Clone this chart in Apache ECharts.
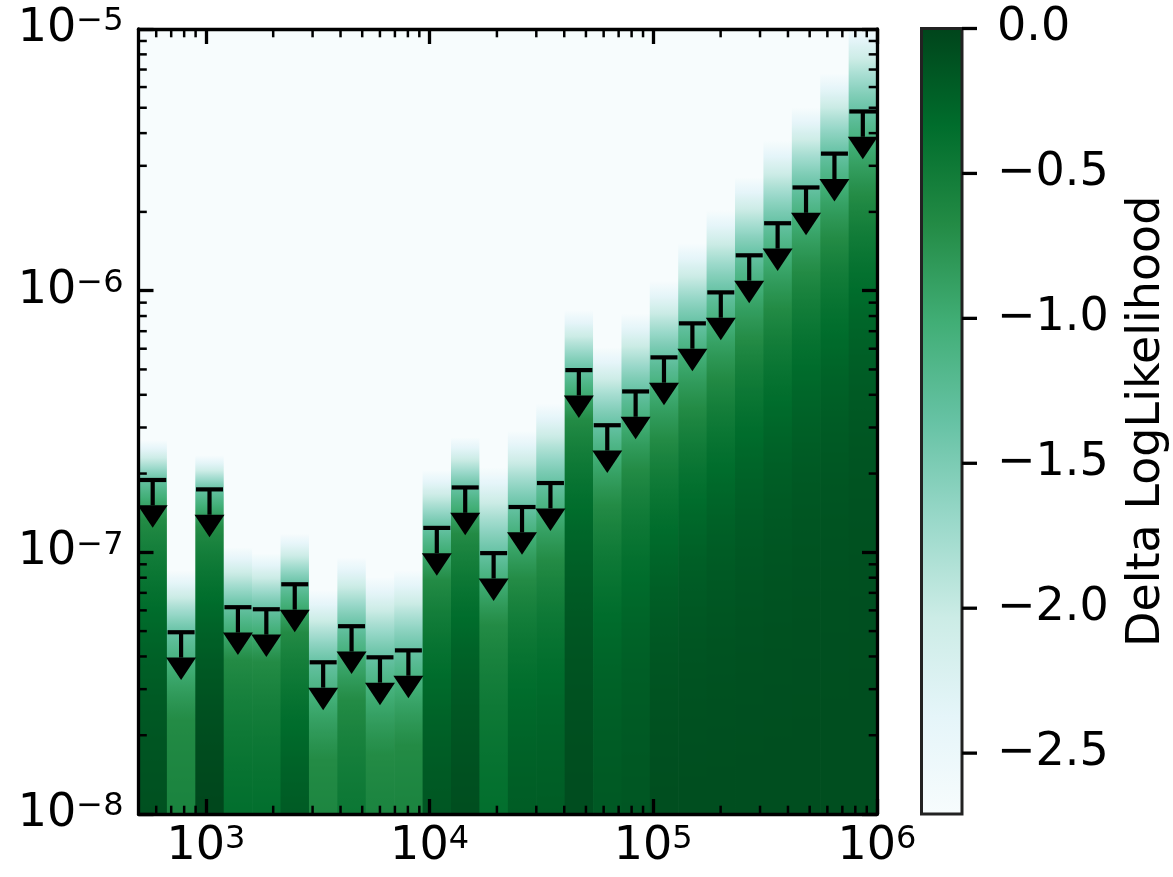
<!DOCTYPE html>
<html>
<head>
<meta charset="utf-8">
<title>Castro plot</title>
<script src="https://cdn.jsdelivr.net/npm/echarts@6/dist/echarts.min.js"></script>
<style>
  html, body { margin: 0; padding: 0; background: #fff; }
  #chart { width: 1173px; height: 877px; }
</style>
</head>
<body>
<div id="chart"></div>
<script>
// energy bin edges, 26 bins from 500 to 1e6
const binEdges = [500, 669.7, 897.1, 1202, 1610, 2157, 2890, 3871, 5186, 6948, 9308,
  12469, 16704, 22378, 29979, 40162, 53803, 72079, 96455, 129210, 173100,
  231900, 310660, 416180, 557540, 746900, 1e6]

// upper limit of each bin (the cap of the arrow), delta logL = -1.355
const upperLimits = [1.89e-7, 4.95e-8, 1.74e-7, 6.17e-8, 6.06e-8, 7.55e-8, 3.80e-8, 5.22e-8,
  3.97e-8, 4.22e-8, 1.24e-7, 1.77e-7, 9.93e-8, 1.49e-7, 1.84e-7, 4.97e-7, 3.06e-7,
  4.12e-7, 5.56e-7, 7.50e-7, 9.85e-7, 1.365e-6, 1.81e-6, 2.48e-6, 3.34e-6, 4.84e-6]

// flux where delta logL is about -0.68 (mid green)
const kneeFlux = [1.33e-7, 2.28e-8, 1.25e-7, 3.87e-8, 3.80e-8, 4.95e-8, 1.61e-8, 2.72e-8,
  1.68e-8, 1.83e-8, 7.82e-8, 1.18e-7, 5.27e-8, 7.82e-8, 9.28e-8, 3.20e-7, 1.51e-7,
  2.06e-7, 2.68e-7, 3.55e-7, 4.67e-7, 6.46e-7, 8.56e-7, 1.18e-6, 1.58e-6, 2.29e-6]

// flux where the likelihood has dropped to the bottom of the colour scale
const fadeFlux = [2.68e-7, 8.53e-8, 2.35e-7, 1.045e-7, 9.91e-8, 1.18e-7, 7.16e-8, 9.57e-8,
  8.03e-8, 8.53e-8, 2.06e-7, 2.75e-7, 2.11e-7, 2.92e-7, 3.71e-7, 8.41e-7, 6.07e-7,
  8.18e-7, 1.09e-6, 1.52e-6, 2.03e-6, 2.71e-6, 3.75e-6, 5.01e-6, 6.76e-6, 1.05e-5]

// delta loglikelihood at the bottom of the plot (flux 1e-8)
const bottomDll = [-0.10, -0.59, -0.02, -0.36, -0.36, -0.19, -0.62, -0.45, -0.60, -0.60,
  -0.15, -0.08, -0.36, -0.20, -0.20, -0.07, -0.17, -0.15, -0.08, -0.08,
  -0.08, -0.08, -0.08, -0.08, -0.08, -0.08]

const kneeLevel = -0.68
const ulLevel = -1.355           // delta logL at the 95% upper limit
const dllRange = [-2.71, 0]      // colour scale
const cbarTicks = [0, -0.5, -1.0, -1.5, -2.0, -2.5]
const xMajor = [1e3, 1e4, 1e5, 1e6]
const yMajor = [1e-8, 1e-7, 1e-6, 1e-5]
const xRange = [500, 1e6]
const yRange = [1e-8, 1e-5]

// matplotlib BuGn
const bugnColors = ['#f7fcfd', '#e5f5f9', '#ccece6', '#99d8c9', '#66c2a4', '#41ae76', '#238b45', '#006d2c', '#00441b']

const FONT = 'DejaVu Sans'
const FS = 46

const minorMult = [2, 3, 4, 5, 6, 7, 8, 9]
const xMinor = []
;[100, 1e3, 1e4, 1e5].forEach(d => minorMult.forEach(m => {
  const v = d * m
  if (v > xRange[0] && v < xRange[1]) xMinor.push([v, yRange[0]])
}))
const yMinor = []
;[1e-8, 1e-7, 1e-6].forEach(d => minorMult.forEach(m => yMinor.push([xRange[0], d * m])))

const bins = upperLimits.map((u, i) => [binEdges[i], binEdges[i + 1], u])

function hexToRgb(h) {
  return [1, 3, 5].map(k => parseInt(h.slice(k, k + 2), 16))
}
const cmapRgb = bugnColors.map(hexToRgb)

function bugn(v) {
  let t = (v - dllRange[0]) / (dllRange[1] - dllRange[0])
  t = Math.min(1, Math.max(0, t))
  const p = t * (cmapRgb.length - 1)
  const i = Math.min(Math.floor(p), cmapRgb.length - 2)
  const f = p - i
  const a = cmapRgb[i], b = cmapRgb[i + 1]
  const c = a.map((x, k) => Math.round(x + (b[k] - x) * f))
  return 'rgb(' + c.join(',') + ')'
}

// piecewise linear (in flux) through the points read for bin i
function profileAt(i, f) {
  const knots = [[yRange[0], bottomDll[i]], [kneeFlux[i], kneeLevel],
    [upperLimits[i], ulLevel], [fadeFlux[i], dllRange[0]]]
  if (f <= knots[0][0]) return knots[0][1]
  for (let k = 1; k < knots.length; k++) {
    if (f <= knots[k][0]) {
      const [f0, v0] = knots[k - 1]
      const [f1, v1] = knots[k]
      return v0 + (v1 - v0) * (f - f0) / (f1 - f0)
    }
  }
  return dllRange[0]
}

function renderColumn(params, api) {
  const i = params.dataIndex
  const lo = api.value(0), hi = api.value(1)
  const tl = api.coord([lo, yRange[1]])
  const br = api.coord([hi, yRange[0]])
  const h = br[1] - tl[1]
  const lmin = Math.log10(yRange[0]), lmax = Math.log10(yRange[1])
  const fluxes = [kneeFlux[i], upperLimits[i], fadeFlux[i]]
  for (let k = 0; k <= 240; k++) fluxes.push(Math.pow(10, lmin + (lmax - lmin) * k / 240))
  const stops = fluxes
    .filter(f => f >= yRange[0] && f <= yRange[1])
    .map(f => ({ offset: (api.coord([lo, f])[1] - tl[1]) / h, color: bugn(profileAt(i, f)) }))
    .sort((a, b) => a.offset - b.offset)
  return {
    type: 'rect',
    shape: { x: tl[0], y: tl[1], width: br[0] - tl[0] + 0.7, height: h },
    style: { fill: new echarts.graphic.LinearGradient(0, 0, 0, 1, stops) },
  }
}

function renderArrow(params, api) {
  const lo = api.value(0), hi = api.value(1), ul = api.value(2)
  const xc = Math.sqrt(lo * hi)
  const cap = api.coord([xc, ul])
  const end = api.coord([xc, ul * 0.8])
  const ls = { stroke: '#000', lineWidth: 4.2 }
  return {
    type: 'group',
    children: [
      { type: 'line', shape: { x1: cap[0] - 13.5, y1: cap[1], x2: cap[0] + 13.5, y2: cap[1] }, style: ls },
      { type: 'line', shape: { x1: cap[0], y1: cap[1], x2: end[0], y2: end[1] }, style: ls },
      { type: 'polygon', shape: { points: [[end[0] - 15, end[1]], [end[0] + 15, end[1]], [end[0], end[1] + 22.5]] }, style: { fill: '#000' } },
    ],
  }
}

function renderXMinor(params, api) {
  const v = api.value(0)
  const b = api.coord([v, yRange[0]]), t = api.coord([v, yRange[1]])
  const ls = { stroke: '#000', lineWidth: 2.5 }
  return { type: 'group', children: [
    { type: 'line', shape: { x1: b[0], y1: b[1], x2: b[0], y2: b[1] - 8.3 }, style: ls },
    { type: 'line', shape: { x1: t[0], y1: t[1], x2: t[0], y2: t[1] + 8.3 }, style: ls },
  ] }
}

function renderYMinor(params, api) {
  const v = api.value(1)
  const l = api.coord([xRange[0], v]), r = api.coord([xRange[1], v])
  const ls = { stroke: '#000', lineWidth: 2.5 }
  return { type: 'group', children: [
    { type: 'line', shape: { x1: l[0], y1: l[1], x2: l[0] + 8.3, y2: l[1] }, style: ls },
    { type: 'line', shape: { x1: r[0], y1: r[1], x2: r[0] - 8.3, y2: r[1] }, style: ls },
  ] }
}

function renderCbar(params, api) {
  const tl = api.coord([0, dllRange[1]])
  const br = api.coord([1, dllRange[0]])
  const n = bugnColors.length - 1
  const stops = bugnColors.map((c, k) => ({ offset: 1 - k / n, color: c })).reverse()
  return {
    type: 'rect',
    shape: { x: tl[0], y: tl[1], width: br[0] - tl[0], height: br[1] - tl[1] },
    style: { fill: new echarts.graphic.LinearGradient(0, 0, 0, 1, stops), stroke: '#222', lineWidth: 3 },
  }
}

// colourbar ticks, pointing out to the right
function renderCbarTick(params, api) {
  const p = api.coord([1, api.value(1)])
  return {
    type: 'line',
    shape: { x1: p[0], y1: p[1], x2: p[0] + 15, y2: p[1] },
    style: { stroke: '#000', lineWidth: 3.3 },
  }
}

function powLabel(v) {
  const e = Math.round(Math.log10(v))
  return '{b|10}{s|' + (e < 0 ? '\u2212' + (-e) : e) + '}'
}

const powRich = {
  b: { fontFamily: FONT, fontSize: FS, color: '#000', lineHeight: FS, verticalAlign: 'bottom', padding: [6, 0, 0, 0] },
  s: { fontFamily: FONT, fontSize: 32, color: '#000', lineHeight: 32, verticalAlign: 'top' },
}

const spine = { show: true, lineStyle: { color: '#000', width: 3.3 } }
const majorTick = (vals) => ({ show: true, inside: true, length: 15, customValues: vals, lineStyle: { color: '#000', width: 3.3 } })

const chart = echarts.init(document.getElementById('chart'))
chart.setOption({
  animation: false,
  backgroundColor: '#fff',
  grid: [
    { left: 138.5, top: 28.5, width: 738.5, height: 785.5 },
    { left: 921.5, top: 28.5, width: 40.5, height: 785.5 },
  ],
  xAxis: [
    {
      type: 'log', gridIndex: 0, min: xRange[0], max: xRange[1], position: 'bottom', z: 10,
      axisLine: spine, axisTick: majorTick(xMajor), splitLine: { show: false },
      axisLabel: { customValues: xMajor, formatter: powLabel, rich: powRich, margin: 10 },
    },
    {
      type: 'log', gridIndex: 0, min: xRange[0], max: xRange[1], position: 'top', z: 10,
      axisLine: spine, axisTick: majorTick(xMajor), splitLine: { show: false }, axisLabel: { show: false },
    },
    { type: 'value', gridIndex: 1, min: 0, max: 1, show: false },
  ],
  yAxis: [
    {
      type: 'log', gridIndex: 0, min: yRange[0], max: yRange[1], position: 'left', z: 10,
      axisLine: spine, axisTick: majorTick(yMajor), splitLine: { show: false },
      axisLabel: { customValues: yMajor, formatter: powLabel, rich: powRich, margin: 15 },
    },
    {
      type: 'log', gridIndex: 0, min: yRange[0], max: yRange[1], position: 'right', z: 10,
      axisLine: spine, axisTick: majorTick(yMajor), splitLine: { show: false }, axisLabel: { show: false },
    },
    {
      type: 'value', gridIndex: 1, min: dllRange[0], max: dllRange[1], position: 'right', z: 10,
      axisLine: { show: false }, splitLine: { show: false }, axisTick: { show: false },
      axisLabel: {
        customValues: cbarTicks, margin: 35, fontFamily: FONT, fontSize: FS, color: '#000',
        formatter: v => (v < 0 ? '\u2212' : '') + Math.abs(v).toFixed(1),
      },
      name: 'Delta LogLikelihood', nameLocation: 'middle', nameRotate: 90, nameGap: 162,
      nameTextStyle: { fontFamily: FONT, fontSize: FS, color: '#000' },
    },
  ],
  series: [
    {
      type: 'custom', name: 'castro', xAxisIndex: 0, yAxisIndex: 0, z: 1,
      data: bins, encode: { x: [0, 1], y: 2 }, renderItem: renderColumn,
    },
    {
      type: 'custom', name: 'upper limits', xAxisIndex: 0, yAxisIndex: 0, z: 3,
      data: bins, encode: { x: [0, 1], y: 2 }, renderItem: renderArrow,
    },
    {
      type: 'custom', name: 'x minor', xAxisIndex: 0, yAxisIndex: 0, z: 4,
      data: xMinor, encode: { x: 0, y: 1 }, renderItem: renderXMinor,
    },
    {
      type: 'custom', name: 'y minor', xAxisIndex: 0, yAxisIndex: 0, z: 4,
      data: yMinor, encode: { x: 0, y: 1 }, renderItem: renderYMinor,
    },
    {
      type: 'custom', name: 'colorbar', xAxisIndex: 2, yAxisIndex: 2, z: 1,
      data: [[0, 1, dllRange[0], dllRange[1]]], encode: { x: [0, 1], y: [2, 3] }, renderItem: renderCbar,
    },
    {
      type: 'custom', name: 'colorbar ticks', xAxisIndex: 2, yAxisIndex: 2, z: 4,
      data: cbarTicks.map(v => [1, v]), encode: { x: 0, y: 1 }, renderItem: renderCbarTick,
    },
  ],
})
</script>
</body>
</html>
